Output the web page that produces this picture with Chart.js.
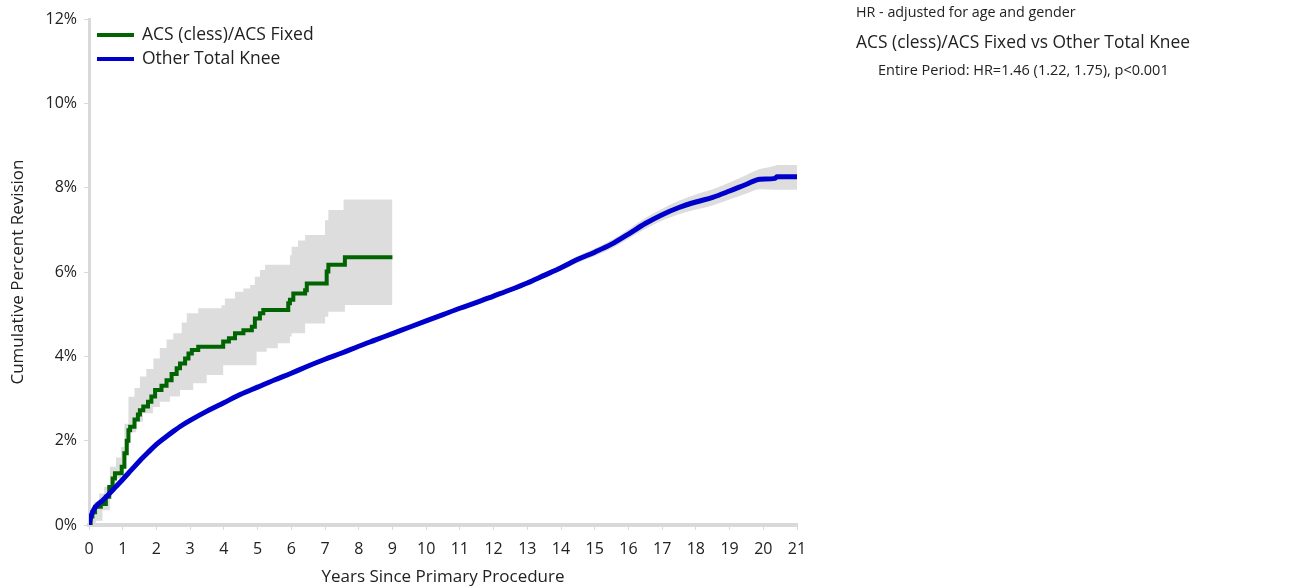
<!DOCTYPE html>
<html lang="en">
<head>
<meta charset="UTF-8">
<title>Cumulative Percent Revision</title>
<script src="https://cdn.jsdelivr.net/npm/chart.js"></script>
<style>
    body { margin: 0; font-family: 'Open Sans', sans-serif; color: #222; background: #fff; }
    #wrap { position: relative; width: 1290px; height: 587px; }
    .legend { position: absolute; left: 97px; top: 21px; font-size: 17.5px; }
    .legend div { height: 24px; line-height: 24px; white-space: nowrap; }
    .legend span { display: inline-block; width: 37px; height: 4px; vertical-align: middle; margin-right: 8px; }
    .note { position: absolute; left: 856px; white-space: nowrap; }
</style>
</head>
<body>
<div id="wrap">
    <canvas id="kmChart"></canvas>
    <div class="legend">
        <div><span style="background:#006400"></span>ACS (cless)/ACS Fixed</div>
        <div><span style="background:#0000cc"></span>Other Total Knee</div>
    </div>
    <div class="note" style="top:2px;font-size:14.3px">HR - adjusted for age and gender</div>
    <div class="note" style="top:29px;font-size:17.4px">ACS (cless)/ACS Fixed vs Other Total Knee</div>
    <div class="note" style="top:60px;left:878px;font-size:14.5px">Entire Period: HR=1.46 (1.22, 1.75), p&lt;0.001</div>
</div>
<script>
// ACS (cless)/ACS Fixed - Kaplan-Meier steps (years, %)
const acsYears = [0, 0.05, 0.1, 0.18, 0.35, 0.5, 0.6, 0.7, 0.77, 0.97, 1.05, 1.12, 1.17, 1.22, 1.35, 1.45, 1.51, 1.61, 1.75, 1.85, 1.96, 2.15, 2.3, 2.45, 2.6, 2.7, 2.85, 2.95, 3.05, 3.24, 3.98, 4.15, 4.33, 4.58, 4.83, 4.92, 5.07, 5.17, 5.91, 5.96, 6.06, 6.41, 6.46, 7.05, 7.1, 7.59, 9.0];
const acsValues = [0, 0.2, 0.3, 0.43, 0.5, 0.67, 0.9, 1.1, 1.23, 1.38, 1.7, 2.0, 2.25, 2.33, 2.5, 2.62, 2.72, 2.81, 2.92, 3.05, 3.2, 3.3, 3.43, 3.58, 3.72, 3.83, 3.95, 4.07, 4.15, 4.23, 4.35, 4.43, 4.55, 4.62, 4.7, 4.9, 5.02, 5.1, 5.26, 5.34, 5.49, 5.57, 5.73, 6.01, 6.17, 6.35, 6.35];

// 95% CI for ACS
const acsUpperYears = [0, 0.05, 0.15, 0.3, 0.45, 0.62, 0.8, 0.95, 1.05, 1.17, 1.35, 1.51, 1.7, 1.91, 2.1, 2.3, 2.5, 2.75, 2.9, 3.24, 3.93, 4.03, 4.33, 4.58, 4.78, 4.92, 5.07, 5.22, 5.96, 6.01, 6.2, 6.41, 7.0, 7.1, 7.55, 9.0];
const acsUpper = [0, 0.3, 0.55, 0.75, 0.9, 1.38, 1.6, 1.85, 2.4, 3.04, 3.25, 3.52, 3.7, 3.95, 4.2, 4.4, 4.55, 4.8, 5.02, 5.14, 5.21, 5.37, 5.53, 5.61, 5.69, 5.89, 6.05, 6.17, 6.4, 6.6, 6.75, 6.88, 7.23, 7.47, 7.72, 7.72];
const acsLowerYears = [0, 0.2, 0.4, 0.62, 0.8, 0.95, 1.1, 1.2, 1.4, 1.6, 1.9, 2.1, 2.4, 2.7, 3.09, 3.49, 3.98, 4.97, 5.27, 5.6, 5.96, 6.01, 6.41, 7.0, 7.1, 7.59, 9.0];
const acsLower = [0, 0.1, 0.35, 0.9, 1.1, 1.35, 1.9, 2.2, 2.45, 2.65, 2.8, 2.92, 3.05, 3.2, 3.36, 3.56, 3.79, 4.11, 4.19, 4.31, 4.47, 4.55, 4.78, 4.94, 5.06, 5.22, 5.22];

// Other Total Knee
const otherYears = [0, 0.03, 0.08, 0.15, 0.25, 0.4, 0.6, 0.8, 1, 1.25, 1.5, 1.75, 2, 2.25, 2.5, 2.75, 3, 3.5, 4, 4.5, 5, 5.5, 6, 6.5, 7, 7.5, 8, 8.5, 9, 9.5, 10, 10.5, 11, 11.5, 12, 12.5, 13, 13.5, 14, 14.5, 15, 15.5, 16, 16.5, 17, 17.5, 18, 18.5, 19, 19.5, 19.9, 20.35, 20.4, 21];
const otherValues = [0, 0.12, 0.25, 0.38, 0.48, 0.58, 0.74, 0.91, 1.08, 1.3, 1.52, 1.72, 1.91, 2.07, 2.22, 2.36, 2.48, 2.7, 2.9, 3.1, 3.27, 3.44, 3.6, 3.77, 3.93, 4.08, 4.24, 4.39, 4.54, 4.69, 4.84, 4.99, 5.14, 5.28, 5.43, 5.58, 5.74, 5.92, 6.1, 6.3, 6.47, 6.66, 6.9, 7.15, 7.36, 7.53, 7.66, 7.77, 7.92, 8.08, 8.2, 8.22, 8.26, 8.26];
const otherLower = [0, 0.09, 0.22, 0.35, 0.45, 0.54, 0.7, 0.87, 1.04, 1.26, 1.48, 1.68, 1.87, 2.03, 2.18, 2.32, 2.44, 2.66, 2.86, 3.06, 3.23, 3.4, 3.56, 3.73, 3.89, 4.04, 4.2, 4.35, 4.5, 4.65, 4.8, 4.95, 5.1, 5.23, 5.38, 5.53, 5.68, 5.86, 6.03, 6.22, 6.38, 6.56, 6.79, 7.02, 7.22, 7.37, 7.48, 7.58, 7.72, 7.86, 7.96, 7.95, 7.95, 7.95];
const otherUpper = [0, 0.15, 0.28, 0.41, 0.51, 0.62, 0.78, 0.95, 1.12, 1.34, 1.56, 1.76, 1.95, 2.11, 2.26, 2.4, 2.52, 2.74, 2.94, 3.14, 3.31, 3.48, 3.64, 3.81, 3.97, 4.12, 4.28, 4.43, 4.58, 4.73, 4.88, 5.03, 5.18, 5.33, 5.48, 5.63, 5.8, 5.98, 6.17, 6.38, 6.56, 6.76, 7.01, 7.28, 7.5, 7.69, 7.84, 7.96, 8.12, 8.3, 8.44, 8.52, 8.54, 8.54];

const yTicks = [0, 2, 4, 6, 8, 10, 12];

function pts(xs, ys) {
    return xs.map((x, i) => ({ x: x, y: ys[i] }));
}

Chart.defaults.font.family = "'Open Sans', sans-serif";

const band = 'rgb(221,221,221)';

// stepped 'before' = horizontal first, then jump at the new time (KM style)
const data = {
    datasets: [
        { data: pts(acsUpperYears, acsUpper), stepped: 'before', borderWidth: 0, pointRadius: 0, fill: false, order: 5 },
        { data: pts(acsLowerYears, acsLower), stepped: 'before', borderWidth: 0, pointRadius: 0, fill: '-1', backgroundColor: band, order: 4 },
        { data: pts(otherYears, otherUpper), cubicInterpolationMode: 'monotone', borderWidth: 0, pointRadius: 0, fill: false, order: 3 },
        { data: pts(otherYears, otherLower), cubicInterpolationMode: 'monotone', borderWidth: 0, pointRadius: 0, fill: '-1', backgroundColor: band, order: 2 },
        { label: 'ACS (cless)/ACS Fixed', data: pts(acsYears, acsValues), stepped: 'before', borderColor: '#006400', borderWidth: 4, pointRadius: 0, fill: false, order: 1 },
        { label: 'Other Total Knee', data: pts(otherYears, otherValues), cubicInterpolationMode: 'monotone', borderColor: '#0000cc', borderWidth: 5, pointRadius: 0, fill: false, order: 0, borderJoinStyle: 'round', borderCapStyle: 'round' }
    ]
};

const axisGrey = '#d9d9d9';

new Chart(document.getElementById('kmChart'), {
    type: 'line',
    data: data,
    options: {
        responsive: true,
        maintainAspectRatio: false,
        animation: false,
        layout: { padding: { top: 19, right: 493, left: 0, bottom: 0 } },
        plugins: { legend: { display: false }, tooltip: { enabled: false } },
        scales: {
            x: {
                type: 'linear',
                min: 0,
                max: 21,
                ticks: { stepSize: 1, color: '#222', font: { size: 16 }, padding: 10, maxRotation: 0 },
                grid: { drawOnChartArea: false, drawTicks: true, tickLength: 5, color: axisGrey, lineWidth: 1 },
                border: { display: true, color: axisGrey, width: 4 },
                title: { display: true, text: 'Years Since Primary Procedure', color: '#222', font: { size: 17 }, padding: 0 },
                afterFit: s => { s.height = 62; }
            },
            y: {
                type: 'linear',
                min: 0,
                max: 12,
                afterBuildTicks: s => { s.ticks = yTicks.map(v => ({ value: v })); },
                ticks: { color: '#222', font: { size: 16 }, padding: 7, callback: v => v + '%' },
                grid: { drawOnChartArea: false, drawTicks: true, tickLength: 5, color: axisGrey, lineWidth: 1 },
                border: { display: true, color: axisGrey, width: 3 },
                title: { display: true, text: 'Cumulative Percent Revision', color: '#222', font: { size: 17 }, padding: { top: 8, bottom: 0 } },
                afterFit: s => { s.width = 89; }
            }
        }
    }
});
</script>
</body>
</html>
